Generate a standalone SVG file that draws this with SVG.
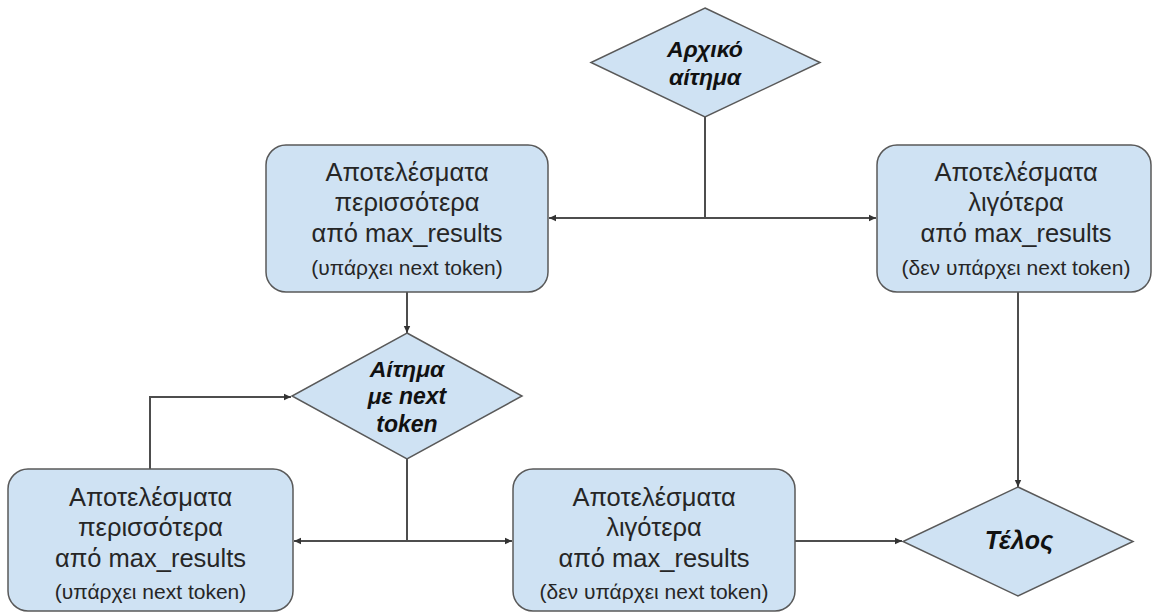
<svg xmlns="http://www.w3.org/2000/svg" width="1153" height="614" viewBox="0 0 1153 614">
<style>
.shape{fill:#cfe2f3;stroke:#595959;stroke-width:1.5}
.conn{fill:none;stroke:#4d4d4d;stroke-width:2}
.t{font-family:"Liberation Sans",Arial,sans-serif;font-size:25.5px;fill:#262626;text-anchor:middle}
.s{font-family:"Liberation Sans",Arial,sans-serif;font-size:21px;fill:#262626;text-anchor:middle}
.d{font-family:"Liberation Sans",Arial,sans-serif;font-size:23px;font-weight:bold;font-style:italic;fill:#111;text-anchor:middle}
</style>
<defs>
<marker id="arr" markerWidth="8" markerHeight="8" refX="7" refY="4" orient="auto" markerUnits="userSpaceOnUse">
<path d="M0,0.8 L7,4 L0,7.2 Z" fill="#333"/>
</marker>
</defs>
<rect width="1153" height="614" fill="#fff"/>
<g id="connectors">
<path class="conn" d="M705,117 V218 H549" marker-end="url(#arr)"/>
<path class="conn" d="M705,218 H876" marker-end="url(#arr)"/>
<path class="conn" d="M407,292 V333" marker-end="url(#arr)"/>
<path class="conn" d="M407,459 V541 H294" marker-end="url(#arr)"/>
<path class="conn" d="M407,541 H512" marker-end="url(#arr)"/>
<path class="conn" d="M150,469 V397 H291" marker-end="url(#arr)"/>
<path class="conn" d="M795,541 H902" marker-end="url(#arr)"/>
<path class="conn" d="M1018,292 V487" marker-end="url(#arr)"/>
</g>
<g id="start">
<polygon class="shape" points="705,8 820,62.5 705,117 591,62.5"/>
<text class="d" x="705" y="57">Αρχικό</text>
<text class="d" x="705" y="85">αίτημα</text>
</g>
<g id="box-more-1">
<rect class="shape" x="266" y="145" width="282" height="147" rx="20"/>
<text class="t" x="407" y="181">Αποτελέσματα</text>
<text class="t" x="407" y="211">περισσότερα</text>
<text class="t" x="407" y="242">από max_results</text>
<text class="s" x="407" y="275">(υπάρχει next token)</text>
</g>
<g id="box-less-1">
<rect class="shape" x="877" y="145" width="274" height="147" rx="20"/>
<text class="t" x="1016" y="181">Αποτελέσματα</text>
<text class="t" x="1016" y="211">λιγότερα</text>
<text class="t" x="1016" y="242">από max_results</text>
<text class="s" x="1016" y="275">(δεν υπάρχει next token)</text>
</g>
<g id="request-next">
<polygon class="shape" points="407,333 522,396 407,459 292,396"/>
<text class="d" x="407" y="377">Αίτημα</text>
<text class="d" x="407" y="404">με next</text>
<text class="d" x="407" y="432">token</text>
</g>
<g id="box-more-2">
<rect class="shape" x="8" y="469" width="285" height="142" rx="20"/>
<text class="t" x="150.5" y="506">Αποτελέσματα</text>
<text class="t" x="150.5" y="536">περισσότερα</text>
<text class="t" x="150.5" y="567">από max_results</text>
<text class="s" x="150.5" y="599">(υπάρχει next token)</text>
</g>
<g id="box-less-2">
<rect class="shape" x="513" y="469" width="282" height="142" rx="20"/>
<text class="t" x="654" y="506">Αποτελέσματα</text>
<text class="t" x="654" y="536">λιγότερα</text>
<text class="t" x="654" y="567">από max_results</text>
<text class="s" x="654" y="599">(δεν υπάρχει next token)</text>
</g>
<g id="end">
<polygon class="shape" points="1018,487 1133,541.5 1018,596 903,541.5"/>
<text class="d" x="1019" y="549" style="font-size:25px">Τέλος</text>
</g>
</svg>
